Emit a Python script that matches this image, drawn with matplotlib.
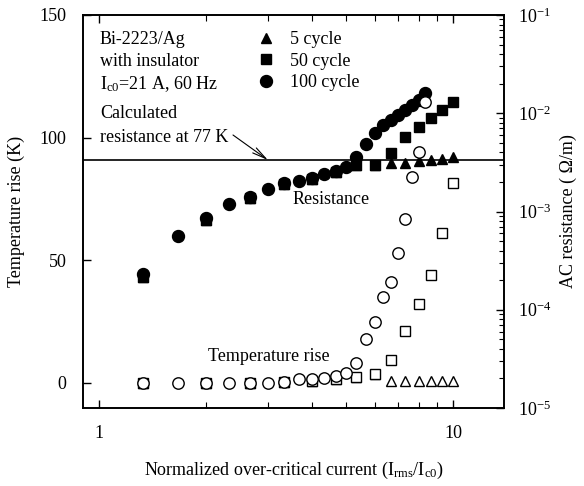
import matplotlib
matplotlib.use("Agg")
import matplotlib.pyplot as plt
from matplotlib.ticker import FixedLocator, NullFormatter, LogLocator

plt.rcParams['font.family'] = ['Liberation Serif', 'DejaVu Serif']
plt.rcParams['mathtext.fontset'] = 'custom'
plt.rcParams['mathtext.rm'] = 'Liberation Serif'
plt.rcParams['mathtext.it'] = 'Liberation Serif:italic'

# ---- data ----
# normalized current I_rms / I_c0
x100 = [1.33, 1.67, 2.00, 2.33, 2.67, 3.00, 3.33, 3.67, 4.00, 4.33, 4.67,
        5.00, 5.33, 5.67, 6.00, 6.33, 6.67, 7.00, 7.33, 7.67, 8.00, 8.33]
R100 = [2.3e-4, 5.6e-4, 8.6e-4, 1.19e-3, 1.41e-3, 1.69e-3, 1.95e-3, 2.04e-3,
        2.19e-3, 2.41e-3, 2.58e-3, 2.84e-3, 3.59e-3, 4.87e-3, 6.3e-3, 7.6e-3,
        8.5e-3, 9.6e-3, 1.08e-2, 1.21e-2, 1.37e-2, 1.61e-2]
T100 = [0, 0, 0, 0, 0, 0, 0.5, 1.5, 1.5, 2, 3, 4, 8, 18, 25, 35, 41, 53, 67,
        84, 94, 114.5]

x50 = [1.33, 2.00, 2.67, 3.33, 4.00, 4.67, 5.33, 6.00, 6.67, 7.33, 8.00,
       8.67, 9.33, 10.0]
R50 = [2.15e-4, 8.2e-4, 1.37e-3, 1.92e-3, 2.16e-3, 2.55e-3, 2.97e-3, 3.0e-3,
       3.94e-3, 5.73e-3, 7.24e-3, 8.95e-3, 1.08e-2, 1.30e-2]
T50 = [0, 0, 0, 0.5, 1, 1.5, 2.5, 3.5, 9.4, 21, 32, 44, 61, 81.5]

x5 = [1.33, 2.00, 2.67, 3.33, 4.00, 4.67, 5.33, 6.00, 6.67, 7.33, 8.00,
      8.67, 9.33, 10.0]
R5 = [2.15e-4, 8.2e-4, 1.37e-3, 1.92e-3, 2.16e-3, 2.55e-3, 2.95e-3, 2.97e-3,
      3.12e-3, 3.12e-3, 3.27e-3, 3.35e-3, 3.43e-3, 3.59e-3]
T5 = [0, 0, 0, 0.5, 1, 1.5, 2.5, 3.5, 1, 1, 1, 1, 1, 1]

R_calc = 3.34e-3
legend_labels = ['5 cycle', '50 cycle', '100 cycle']

# ---- figure ----
W, H = 584, 486
fig = plt.figure(figsize=(W / 100, H / 100), dpi=100)
L, R, T, B = 83, 504, 15, 408
ax2 = fig.add_axes([L / W, (H - B) / H, (R - L) / W, (B - T) / H])
ax = ax2.twinx()
ax.yaxis.tick_left()
ax.yaxis.set_label_position('left')
ax2.yaxis.tick_right()
ax2.yaxis.set_label_position('right')
ax.set_zorder(ax2.get_zorder() + 1)
ax.patch.set_visible(False)

# resistance (filled) on right log axis
l5, = ax2.plot(x5, R5, '^', color='black', ms=7.0, ls='none')
l50, = ax2.plot(x50, R50, 's', color='black', ms=7.6, ls='none')
l100, = ax2.plot(x100, R100, 'o', color='black', ms=8.6, ls='none')
ax2.axhline(R_calc, color='black', lw=1.2)
ax2.set_yscale('log')
ax2.set_ylim(1e-5, 1e-1)
ax2.set_xscale('log')
ax2.set_xlim(0.901, 13.93)

# temperature rise (open) on left linear axis
ax.plot(x5, T5, '^', mec='black', mfc='white', mew=1.0, ms=7.0, ls='none')
ax.plot(x50, T50, 's', mec='black', mfc='white', mew=1.0, ms=7.2, ls='none')
ax.plot(x100, T100, 'o', mec='black', mfc='white', mew=1.0, ms=8.2, ls='none')
ax.set_ylim(-10.2, 150)
ax.set_yticks([0, 50, 100, 150])

fs = 13
# x ticks
ax2.xaxis.set_major_locator(FixedLocator([1, 10]))
ax2.set_xticklabels(['1', '10'])
ax2.xaxis.set_minor_locator(FixedLocator([2, 3, 4, 5, 6, 7, 8, 9]))
ax2.xaxis.set_minor_formatter(NullFormatter())
ax2.tick_params(axis='x', which='both', direction='in', top=True, labelsize=fs, pad=12)
ax2.tick_params(axis='x', which='major', length=6, width=1)
ax2.tick_params(axis='x', which='minor', length=4, width=0.8)
ax2.tick_params(axis='y', which='major', direction='in', length=6, width=1, labelsize=fs, pad=10)
ax2.tick_params(axis='y', which='minor', direction='in', length=3.5, width=0.8)
ax2.yaxis.set_minor_locator(LogLocator(base=10, subs=range(2, 10), numticks=20))
ax2.set_yticks([1e-5, 1e-4, 1e-3, 1e-2, 1e-1])
ax2.set_yticklabels([r'$10^{-5}$', r'$10^{-4}$', r'$10^{-3}$', r'$10^{-2}$', r'$10^{-1}$'])
ax.tick_params(axis='y', direction='in', length=6, width=1, labelsize=fs, pad=12)

for a in (ax, ax2):
    for s in a.spines.values():
        s.set_linewidth(1.2)

ax2.set_xlabel(r'Normalized over-critical current (I$_{\mathrm{rms}}$/I$_{\mathrm{c0}}$)',
               fontsize=fs, labelpad=13)
ax.set_ylabel('Temperature rise (K)', fontsize=fs, labelpad=10)
ax2.set_ylabel('AC resistance ( Ω/m)', fontsize=fs, labelpad=6)

# ---- annotations ----
def ax_frac(px, py):
    return ((px - L) / (R - L), (B - py) / (B - T))

ax.text(*ax_frac(100, 40), 'Bi-2223/Ag', transform=ax.transAxes, fontsize=fs, va='center')
ax.text(*ax_frac(100, 62), 'with insulator', transform=ax.transAxes, fontsize=fs, va='center')
ax.text(*ax_frac(100, 84), r'I$_{\mathrm{c0}}$=21 A, 60 Hz', transform=ax.transAxes, fontsize=fs, va='center')
ax.text(*ax_frac(100, 113), 'Calculated', transform=ax.transAxes, fontsize=fs, va='center')
ax.text(*ax_frac(100, 137), 'resistance at 77 K', transform=ax.transAxes, fontsize=fs, va='center')
ax.annotate('', xy=(3.0, R_calc), xycoords=ax2.transData,
            xytext=ax_frac(233, 135), textcoords=ax.transAxes,
            arrowprops=dict(arrowstyle='->,head_length=1.0,head_width=0.22', lw=0.8, color='black',
                            shrinkA=0, shrinkB=0))
ax.text(*ax_frac(331, 200), 'Resistance', transform=ax.transAxes, fontsize=fs, ha='center', va='center')
ax.text(*ax_frac(269, 356), 'Temperature rise', transform=ax.transAxes, fontsize=fs, ha='center', va='center')

leg = ax.legend([l5, l50, l100], legend_labels, loc='upper left',
                bbox_to_anchor=ax_frac(257, 31), bbox_transform=ax.transAxes,
                frameon=False, fontsize=fs, handlelength=1.0, handletextpad=0.8,
                labelspacing=0.25, borderpad=0, borderaxespad=0, numpoints=1)

fig.savefig('out.png', dpi=100)
